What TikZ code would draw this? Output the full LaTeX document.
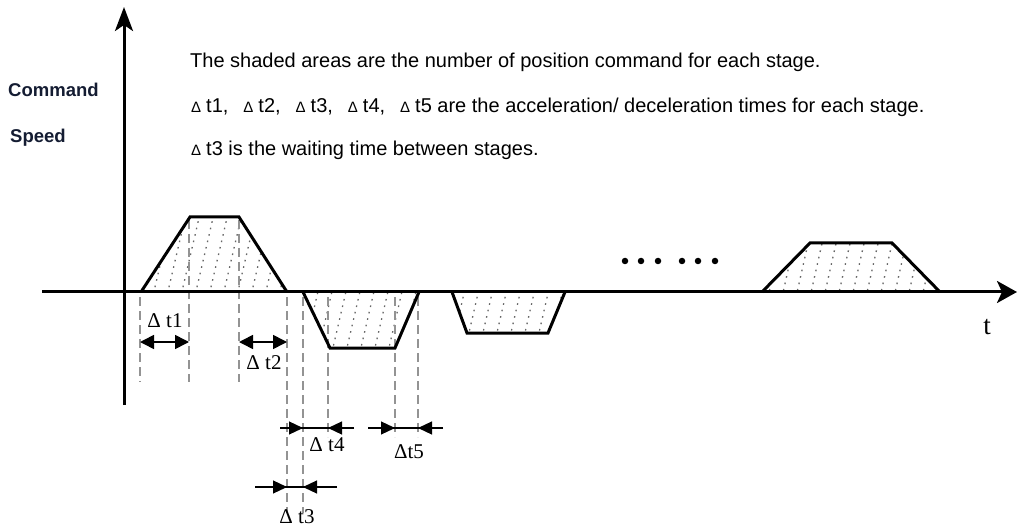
\documentclass[tikz,border=0pt]{standalone}
\usepackage{fontspec}
\setmainfont{Liberation Serif}
\newfontfamily\arialfont{Liberation Sans}
\usetikzlibrary{arrows.meta}
\definecolor{labelink}{RGB}{20,28,50}
\begin{document}
\begin{tikzpicture}[x=1pt,y=-1pt,
  axisline/.style={line width=3pt},
  trapline/.style={line width=3pt, line join=miter},
  hatchline/.style={black!60, line width=1.3pt, dash pattern=on 1.6pt off 5pt},
  guide/.style={gray!85, line width=1.4pt, dash pattern=on 9pt off 5pt},
  dimboth/.style={line width=1.6pt, {Triangle[length=14pt,width=14pt]}-{Triangle[length=14pt,width=14pt]}},
  dimbar/.style={line width=1.2pt},
  dimhead/.style={line width=1.2pt, -{Triangle[length=14pt,width=13pt]}},
  dimlabel/.style={font=\fontsize{21}{21}\selectfont, inner sep=0pt},
  note/.style={font=\arialfont\fontsize{20}{20}\selectfont, anchor=west, inner sep=0pt},
  axislabel/.style={font=\arialfont\bfseries\fontsize{18.5}{18.5}\selectfont, anchor=west, inner sep=0pt, text=labelink},
  dotmark/.style={circle, fill=black, inner sep=0pt, minimum size=6.5pt}
]
\useasboundingbox (0,0) rectangle (1017,529);
\newcommand{\smalldelta}{{\fontsize{15}{15}\selectfont Δ}\hspace{5pt}}

% shading
\begin{scope}
\clip (141,292) -- (190,217) -- (239,217) -- (287,292) -- cycle;
\foreach \x in {110,124,...,300} \draw[hatchline] (\x,300) -- ++(22,-95);
\end{scope}
\begin{scope}
\clip (303,292) -- (330,348) -- (395,348) -- (419,292) -- cycle;
\foreach \x in {290,304,...,430} \draw[hatchline] (\x,352) -- ++(15,-65);
\end{scope}
\begin{scope}
\clip (452,292) -- (467,333) -- (548,333) -- (565,292) -- cycle;
\foreach \x in {440,454,...,570} \draw[hatchline] (\x,337) -- ++(11,-48);
\end{scope}
\begin{scope}
\clip (762,292) -- (810,243) -- (892,243) -- (940,292) -- cycle;
\foreach \x in {740,754,...,950} \draw[hatchline] (\x,297) -- ++(13,-58);
\end{scope}

% dashed guides
\draw[guide] (140,297) -- (140,382);
\draw[guide] (189,220) -- (189,382);
\draw[guide] (239,220) -- (239,382);
\draw[guide] (287,297) -- (287,513);
\draw[guide] (303,297) -- (303,513);
\draw[guide] (328,297) -- (328,437);
\draw[guide] (395,297) -- (395,437);
\draw[guide] (418,297) -- (418,437);

% axes
\coordinate (yb) at (124,405);
\coordinate (yt) at (124,7);
\coordinate (xl) at (42,292);
\coordinate (xr) at (1017,292);
\draw[axisline, -{Stealth[length=24pt,width=18pt,inset=6pt]}] (yb) -- (yt);
\draw[axisline, -{Stealth[length=20pt,width=22pt,inset=5pt]}] (xl) -- (xr);

% trapezoids
\draw[trapline] (141,292) -- (190,217) -- (239,217) -- (287,292);
\draw[trapline] (303,292) -- (330,348) -- (395,348) -- (419,292);
\draw[trapline] (452,292) -- (467,333) -- (548,333) -- (565,292);
\draw[trapline] (762,292) -- (810,243) -- (892,243) -- (940,292);

% dots
\foreach \x [count=\i] in {625,641,658,682,698,715} \node[dotmark] (dot\i) at (\x,261) {};

% dimension arrows
\coordinate (a1l) at (140,342); \coordinate (a1r) at (189,342);
\draw[dimboth] (a1l) -- (a1r);
\node[dimlabel] (l1) at (165,321) {Δ t1};
\coordinate (a2l) at (239,342); \coordinate (a2r) at (287,342);
\draw[dimboth] (a2l) -- (a2r);
\node[dimlabel] (l2) at (264,363) {Δ t2};

\coordinate (a4s) at (280,428); \coordinate (a4a) at (303,428);
\coordinate (a4b) at (328,428); \coordinate (a4e) at (354,428);
\draw[dimbar] (a4s) -- (a4e);
\draw[dimhead] (a4s) -- (a4a);
\draw[dimhead] (a4e) -- (a4b);
\node[dimlabel] (l4) at (327,445) {Δ t4};

\coordinate (a5s) at (368,428); \coordinate (a5a) at (395,428);
\coordinate (a5b) at (418,428); \coordinate (a5e) at (443,428);
\draw[dimbar] (a5s) -- (a5e);
\draw[dimhead] (a5s) -- (a5a);
\draw[dimhead] (a5e) -- (a5b);
\node[dimlabel] (l5) at (409,452) {Δt5};

\coordinate (a3s) at (255,487); \coordinate (a3a) at (287,487);
\coordinate (a3b) at (303,487); \coordinate (a3e) at (337,487);
\draw[dimbar] (a3s) -- (a3e);
\draw[dimhead] (a3s) -- (a3a);
\draw[dimhead] (a3e) -- (a3b);
\node[dimlabel] (l3) at (297,517) {Δ t3};

% t label
\node[font=\fontsize{27}{27}\selectfont, inner sep=0pt] (tlab) at (987,327) {t};

% axis labels
\node[axislabel] (cmd) at (8,90) {Command};
\node[axislabel] (spd) at (10,138) {Speed};

% notes
\node[note] (n1) at (190,62) {The shaded areas are the number of position command for each stage.};
\node[note] (n2) at (191,107) {\smalldelta t1,\hspace{15pt}\smalldelta t2,\hspace{15pt}\smalldelta t3,\hspace{15pt}\smalldelta t4,\hspace{15pt}\smalldelta t5 are the acceleration/ deceleration times for each stage.};
\node[note] (n3) at (191,150) {\smalldelta t3 is the waiting time between stages.};
\end{tikzpicture}
\end{document}
